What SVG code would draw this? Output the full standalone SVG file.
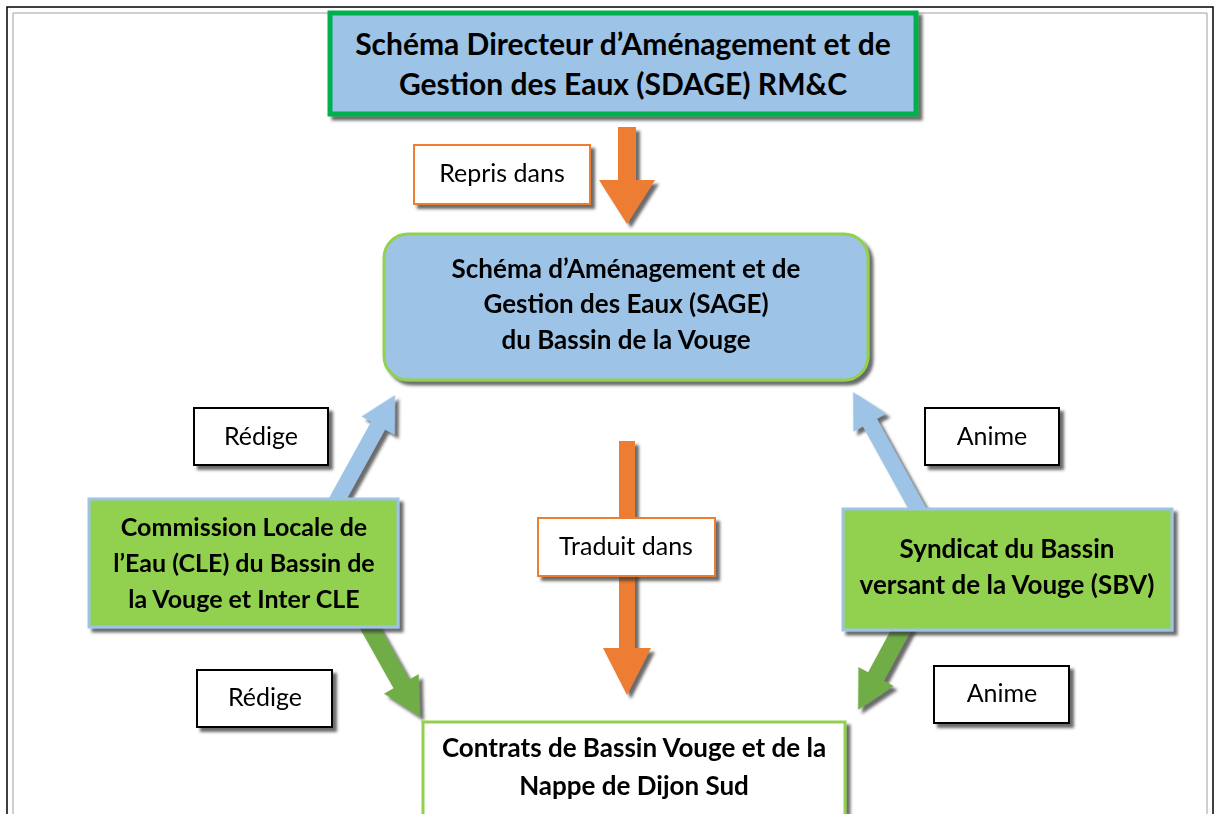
<svg xmlns="http://www.w3.org/2000/svg" width="1221" height="814" viewBox="0 0 1221 814">
<defs>
<filter id="sh" x="-10%" y="-10%" width="130%" height="140%">
<feDropShadow dx="4" dy="4" stdDeviation="1.5" flood-color="#3a3a3a" flood-opacity="0.75"/>
</filter>
<style>
.b{font-family:Lato,"Liberation Sans",sans-serif;font-weight:bold;fill:#000;text-anchor:middle}
.r{font-family:Lato,"Liberation Sans",sans-serif;font-size:25px;fill:#000;text-anchor:middle}
.lbl{fill:#fff;stroke:#000;stroke-width:2}
.olbl{fill:#fff;stroke:#ed7d31;stroke-width:2}
.or{fill:#ed7d31}
.bl{fill:#9dc3e6}
.gr{fill:#70ad47}
</style>
</defs>
<rect x="0" y="0" width="1221" height="814" fill="#fff"/>
<path d="M7,820 V7 H1213 V820" fill="none" stroke="#000" stroke-width="1.5"/>
<path d="M13,820 V13 H1207 V820" fill="none" stroke="#a0a0a0" stroke-width="1"/>

<g id="connectors" filter="url(#sh)">
<path class="or" d="M618,127 H636 V180 H655 L627,224 L599,180 H618 Z"/>
<path class="or" d="M619,441 H635 V648 H651 L627,695 L603,648 H619 Z"/>
<path class="bl" transform="translate(395,395) rotate(-61.1)" d="M-150,-8 L-35,-8 L-35,-19 L0,0 L-35,19 L-35,8 L-150,8 Z"/>
<path class="bl" transform="translate(853,392) rotate(-118.9)" d="M-150,-8 L-35,-8 L-35,-19 L0,0 L-35,19 L-35,8 L-150,8 Z"/>
<path class="gr" transform="translate(420,717) rotate(60.7)" d="M-110,-9 L-38,-9 L-38,-20 L0,0 L-38,20 L-38,9 L-110,9 Z"/>
<path class="gr" transform="translate(858,710) rotate(118.3)" d="M-100,-9 L-38,-9 L-38,-20 L0,0 L-38,20 L-38,9 L-100,9 Z"/>
</g>

<g id="sdage">
<rect x="330" y="13" width="586" height="101" fill="#9dc3e6" stroke="#00b050" stroke-width="5" filter="url(#sh)"/>
<text class="b" font-size="30" x="623" y="55">Schéma Directeur d’Aménagement et de</text>
<text class="b" font-size="30" x="623" y="95">Gestion des Eaux (SDAGE) RM&amp;C</text>
</g>

<g id="repris">
<rect class="olbl" x="414" y="145" width="176" height="59" filter="url(#sh)"/>
<text class="r" x="502" y="182">Repris dans</text>
</g>

<g id="sage">
<rect x="384" y="234" width="484" height="146" rx="24" fill="#9dc3e6" stroke="#92d050" stroke-width="3" filter="url(#sh)"/>
<text class="b" font-size="26" x="626" y="278">Schéma d’Aménagement et de</text>
<text class="b" font-size="26" x="626" y="313">Gestion des Eaux (SAGE)</text>
<text class="b" font-size="26" x="626" y="349">du Bassin de la Vouge</text>
</g>

<g id="redige1">
<rect class="lbl" x="194" y="408" width="134" height="57" filter="url(#sh)"/>
<text class="r" x="261" y="445">Rédige</text>
</g>

<g id="anime1">
<rect class="lbl" x="925" y="408" width="134" height="57" filter="url(#sh)"/>
<text class="r" x="992" y="445">Anime</text>
</g>

<g id="cle">
<rect x="89" y="499" width="309" height="128" fill="#92d050" stroke="#9dc3e6" stroke-width="3" filter="url(#sh)"/>
<text class="b" font-size="25" x="244" y="536">Commission Locale de</text>
<text class="b" font-size="25" x="244" y="572">l’Eau (CLE) du Bassin de</text>
<text class="b" font-size="25" x="244" y="608">la Vouge et Inter CLE</text>
</g>

<g id="traduit">
<rect class="olbl" x="538" y="518" width="177" height="58" filter="url(#sh)"/>
<text class="r" x="626" y="555">Traduit dans</text>
</g>

<g id="sbv">
<rect x="843" y="509" width="329" height="121" fill="#92d050" stroke="#9dc3e6" stroke-width="3" filter="url(#sh)"/>
<text class="b" font-size="26" x="1007" y="558">Syndicat du Bassin</text>
<text class="b" font-size="26" x="1007" y="594">versant de la Vouge (SBV)</text>
</g>

<g id="redige2">
<rect class="lbl" x="197" y="670" width="135" height="57" filter="url(#sh)"/>
<text class="r" x="265" y="706">Rédige</text>
</g>

<g id="anime2">
<rect class="lbl" x="934" y="666" width="135" height="57" filter="url(#sh)"/>
<text class="r" x="1002" y="702">Anime</text>
</g>

<g id="contrats">
<rect x="423" y="722" width="422" height="110" fill="#fff" stroke="#92d050" stroke-width="3" filter="url(#sh)"/>
<text class="b" font-size="26" x="634" y="757">Contrats de Bassin Vouge et de la</text>
<text class="b" font-size="26" x="634" y="795">Nappe de Dijon Sud</text>
</g>
</svg>
